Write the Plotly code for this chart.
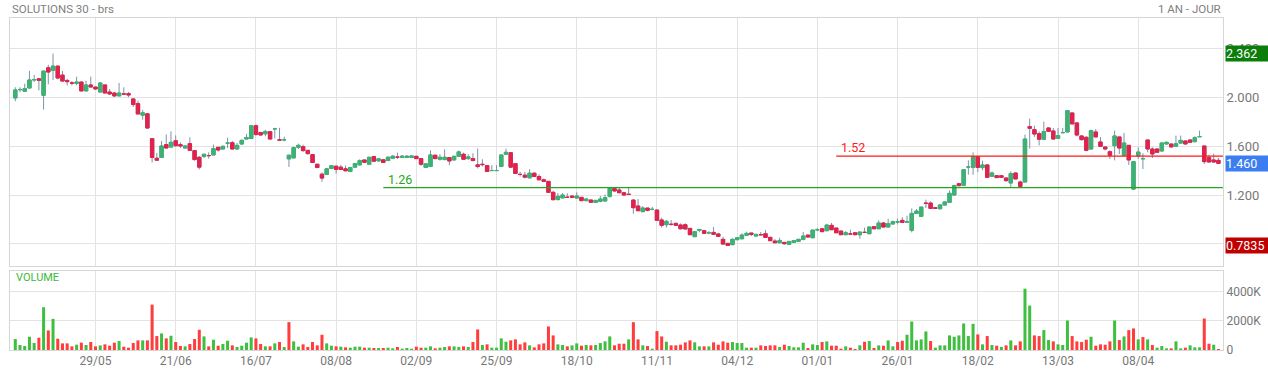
import plotly.graph_objects as go

# ---------------- data ----------------
title_left = "SOLUTIONS 30 - brs"
title_right = "1 AN - JOUR"

tick_bars = [17, 34, 51, 68, 85, 102, 119, 136, 153, 170, 187, 204, 221, 238]
tick_labels = ["29/05", "21/06", "16/07", "08/08", "02/09", "25/09", "18/10",
               "11/11", "04/12", "01/01", "26/01", "18/02", "13/03", "08/04"]

opens = [1.997, 2.065, 2.052, 2.079, 2.146, 2.155, 2.019, 2.245, 2.224, 2.259,
         2.185, 2.141, 2.120, 2.117, 2.128, 2.055, 2.104, 2.087, 2.046, 2.104,
         2.046, 2.038, 2.014, 2.030, 2.033, 1.989, 1.951, 1.856, 1.867, 1.663,
         1.502, 1.508, 1.614, 1.594, 1.646, 1.614, 1.586, 1.622, 1.565, 1.510,
         1.516, 1.524, 1.529, 1.592, 1.578, 1.627, 1.630, 1.578, 1.619, 1.660,
         1.665, 1.769, 1.714, 1.703, 1.720, 1.744, 1.653, 1.654, 1.497, 1.505,
         1.592, 1.597, 1.567, 1.532, 1.453, 1.371, 1.369, 1.418, 1.437, 1.429,
         1.415, 1.393, 1.429, 1.448, 1.488, 1.453, 1.516, 1.480, 1.489, 1.483,
         1.502, 1.511, 1.508, 1.508, 1.508, 1.518, 1.499, 1.426, 1.434, 1.527,
         1.494, 1.491, 1.508, 1.489, 1.518, 1.535, 1.499, 1.499, 1.448, 1.453,
         1.442, 1.401, 1.401, 1.434, 1.535, 1.548, 1.458, 1.369, 1.363, 1.341,
         1.379, 1.352, 1.325, 1.312, 1.222, 1.162, 1.176, 1.181, 1.192, 1.175,
         1.181, 1.154, 1.159, 1.140, 1.148, 1.151, 1.189, 1.254, 1.241, 1.219,
         1.206, 1.159, 1.110, 1.063, 1.093, 1.082, 1.077, 0.995, 0.956, 0.959,
         0.967, 0.954, 0.956, 0.926, 0.858, 0.910, 0.907, 0.890, 0.893, 0.880,
         0.836, 0.803, 0.792, 0.833, 0.841, 0.869, 0.888, 0.863, 0.874, 0.882,
         0.852, 0.822, 0.808, 0.811, 0.795, 0.811, 0.819, 0.836, 0.871, 0.849,
         0.915, 0.923, 0.907, 0.951, 0.929, 0.904, 0.874, 0.880, 0.890, 0.874,
         0.893, 0.882, 0.940, 0.923, 0.970, 0.937, 0.962, 0.978, 0.992, 0.978,
         0.910, 1.049, 1.025, 1.134, 1.134, 1.096, 1.088, 1.118, 1.140, 1.200,
         1.293, 1.280, 1.430, 1.427, 1.515, 1.425, 1.447, 1.354, 1.359, 1.359,
         1.340, 1.299, 1.381, 1.307, 1.307, 1.762, 1.737, 1.704, 1.658, 1.751,
         1.726, 1.666, 1.712, 1.718, 1.874, 1.792, 1.685, 1.674, 1.578, 1.718,
         1.636, 1.595, 1.556, 1.605, 1.677, 1.526, 1.608, 1.249, 1.523, 1.498,
         1.652, 1.578, 1.578, 1.562, 1.619, 1.619, 1.600, 1.627, 1.644, 1.652,
         1.638, 1.679, 1.603, 1.507, 1.488, 1.485]

highs = [2.085, 2.085, 2.114, 2.220, 2.188, 2.155, 2.218, 2.270, 2.362, 2.259,
         2.218, 2.155, 2.136, 2.172, 2.130, 2.139, 2.172, 2.087, 2.128, 2.104,
         2.071, 2.046, 2.120, 2.085, 2.046, 1.997, 1.975, 1.899, 1.868, 1.663,
         1.546, 1.644, 1.698, 1.722, 1.690, 1.633, 1.608, 1.674, 1.565, 1.521,
         1.535, 1.551, 1.614, 1.592, 1.605, 1.671, 1.644, 1.627, 1.657, 1.701,
         1.769, 1.780, 1.716, 1.736, 1.725, 1.752, 1.752, 1.679, 1.527, 1.597,
         1.622, 1.614, 1.567, 1.532, 1.455, 1.385, 1.423, 1.440, 1.439, 1.448,
         1.442, 1.426, 1.459, 1.494, 1.489, 1.511, 1.521, 1.497, 1.497, 1.518,
         1.529, 1.548, 1.529, 1.529, 1.529, 1.518, 1.499, 1.456, 1.567, 1.527,
         1.535, 1.575, 1.508, 1.518, 1.565, 1.548, 1.535, 1.543, 1.581, 1.494,
         1.442, 1.445, 1.445, 1.530, 1.581, 1.548, 1.459, 1.391, 1.391, 1.412,
         1.388, 1.371, 1.336, 1.312, 1.235, 1.216, 1.216, 1.214, 1.192, 1.222,
         1.181, 1.173, 1.159, 1.156, 1.192, 1.205, 1.262, 1.260, 1.263, 1.227,
         1.263, 1.160, 1.167, 1.110, 1.093, 1.104, 1.077, 1.014, 0.995, 0.995,
         0.975, 0.967, 0.967, 0.926, 0.900, 0.919, 0.912, 0.904, 0.937, 0.890,
         0.858, 0.803, 0.844, 0.849, 0.885, 0.899, 0.888, 0.877, 0.896, 0.912,
         0.858, 0.838, 0.849, 0.811, 0.820, 0.826, 0.837, 0.896, 0.871, 0.913,
         0.929, 0.924, 0.964, 0.970, 0.929, 0.905, 0.904, 0.915, 0.891, 0.897,
         0.932, 0.938, 0.941, 0.992, 0.978, 1.005, 0.990, 1.005, 1.019, 1.030,
         1.090, 1.085, 1.104, 1.162, 1.148, 1.098, 1.126, 1.148, 1.238, 1.285,
         1.299, 1.409, 1.485, 1.551, 1.516, 1.482, 1.455, 1.392, 1.362, 1.362,
         1.343, 1.395, 1.382, 1.318, 1.696, 1.827, 1.770, 1.723, 1.803, 1.756,
         1.751, 1.751, 1.751, 1.894, 1.875, 1.800, 1.693, 1.682, 1.737, 1.742,
         1.677, 1.595, 1.567, 1.729, 1.677, 1.710, 1.608, 1.475, 1.592, 1.543,
         1.652, 1.592, 1.586, 1.636, 1.638, 1.620, 1.688, 1.688, 1.645, 1.660,
         1.682, 1.729, 1.603, 1.531, 1.540, 1.504]

lows = [1.970, 2.046, 2.050, 2.075, 2.128, 2.060, 1.902, 2.109, 2.144, 2.150,
        2.136, 2.101, 2.101, 2.101, 2.054, 2.053, 2.085, 2.063, 2.046, 2.038,
        2.022, 2.005, 2.014, 2.028, 2.003, 1.924, 1.866, 1.818, 1.749, 1.467,
        1.480, 1.508, 1.586, 1.592, 1.600, 1.586, 1.586, 1.567, 1.483, 1.410,
        1.505, 1.499, 1.529, 1.556, 1.578, 1.586, 1.578, 1.578, 1.614, 1.660,
        1.660, 1.682, 1.690, 1.682, 1.660, 1.665, 1.651, 1.641, 1.431, 1.505,
        1.578, 1.554, 1.532, 1.467, 1.420, 1.309, 1.369, 1.412, 1.377, 1.410,
        1.399, 1.388, 1.428, 1.442, 1.464, 1.452, 1.472, 1.480, 1.467, 1.483,
        1.502, 1.497, 1.508, 1.508, 1.508, 1.497, 1.440, 1.426, 1.434, 1.494,
        1.483, 1.486, 1.445, 1.480, 1.513, 1.494, 1.489, 1.478, 1.418, 1.434,
        1.393, 1.400, 1.400, 1.433, 1.534, 1.423, 1.377, 1.352, 1.336, 1.341,
        1.352, 1.325, 1.309, 1.221, 1.154, 1.160, 1.175, 1.175, 1.175, 1.175,
        1.148, 1.148, 1.140, 1.139, 1.140, 1.150, 1.178, 1.232, 1.214, 1.192,
        1.200, 1.047, 1.070, 1.062, 1.066, 1.074, 0.991, 0.932, 0.932, 0.948,
        0.945, 0.918, 0.921, 0.873, 0.857, 0.894, 0.885, 0.877, 0.877, 0.855,
        0.797, 0.7835, 0.791, 0.830, 0.835, 0.863, 0.863, 0.862, 0.868, 0.851,
        0.825, 0.808, 0.803, 0.792, 0.794, 0.810, 0.819, 0.827, 0.854, 0.848,
        0.904, 0.898, 0.906, 0.914, 0.889, 0.873, 0.873, 0.873, 0.873, 0.841,
        0.888, 0.881, 0.922, 0.922, 0.936, 0.936, 0.961, 0.958, 0.975, 0.975,
        0.893, 1.044, 1.020, 1.093, 1.085, 1.088, 1.080, 1.115, 1.134, 1.195,
        1.271, 1.277, 1.367, 1.367, 1.389, 1.403, 1.345, 1.350, 1.340, 1.340,
        1.310, 1.266, 1.331, 1.266, 1.305, 1.581, 1.677, 1.608, 1.655, 1.718,
        1.660, 1.660, 1.710, 1.717, 1.783, 1.682, 1.649, 1.559, 1.573, 1.677,
        1.595, 1.567, 1.496, 1.485, 1.537, 1.526, 1.447, 1.244, 1.496, 1.414,
        1.551, 1.504, 1.550, 1.556, 1.614, 1.594, 1.595, 1.622, 1.618, 1.632,
        1.637, 1.676, 1.455, 1.471, 1.468, 1.454]

closes = [2.063, 2.067, 2.074, 2.145, 2.148, 2.142, 2.218, 2.210, 2.259, 2.161,
          2.136, 2.131, 2.119, 2.128, 2.055, 2.104, 2.087, 2.071, 2.120, 2.038,
          2.030, 2.014, 2.038, 2.030, 2.022, 1.943, 1.866, 1.875, 1.750, 1.508,
          1.486, 1.603, 1.586, 1.633, 1.605, 1.603, 1.603, 1.567, 1.491, 1.429,
          1.535, 1.524, 1.581, 1.570, 1.600, 1.627, 1.578, 1.608, 1.649, 1.673,
          1.769, 1.698, 1.693, 1.722, 1.660, 1.744, 1.651, 1.654, 1.527, 1.589,
          1.608, 1.565, 1.540, 1.467, 1.426, 1.339, 1.415, 1.440, 1.410, 1.410,
          1.399, 1.426, 1.458, 1.483, 1.469, 1.510, 1.478, 1.497, 1.467, 1.510,
          1.519, 1.511, 1.519, 1.519, 1.521, 1.499, 1.453, 1.456, 1.529, 1.499,
          1.510, 1.510, 1.480, 1.518, 1.554, 1.494, 1.513, 1.483, 1.434, 1.450,
          1.393, 1.401, 1.401, 1.529, 1.551, 1.429, 1.377, 1.369, 1.347, 1.379,
          1.352, 1.325, 1.312, 1.222, 1.162, 1.189, 1.200, 1.181, 1.181, 1.192,
          1.154, 1.167, 1.140, 1.156, 1.167, 1.178, 1.254, 1.233, 1.219, 1.200,
          1.205, 1.096, 1.071, 1.093, 1.074, 1.082, 0.992, 0.951, 0.984, 0.959,
          0.951, 0.923, 0.921, 0.874, 0.899, 0.917, 0.885, 0.890, 0.877, 0.860,
          0.797, 0.786, 0.836, 0.849, 0.871, 0.885, 0.877, 0.877, 0.874, 0.852,
          0.825, 0.808, 0.827, 0.800, 0.819, 0.825, 0.836, 0.863, 0.855, 0.912,
          0.915, 0.899, 0.953, 0.915, 0.890, 0.874, 0.890, 0.880, 0.874, 0.896,
          0.893, 0.937, 0.923, 0.970, 0.937, 0.964, 0.981, 0.980, 0.975, 0.979,
          1.049, 1.068, 1.101, 1.131, 1.090, 1.091, 1.118, 1.143, 1.214, 1.277,
          1.277, 1.408, 1.430, 1.515, 1.427, 1.447, 1.345, 1.381, 1.343, 1.345,
          1.318, 1.376, 1.332, 1.271, 1.660, 1.748, 1.701, 1.658, 1.721, 1.723,
          1.660, 1.688, 1.713, 1.893, 1.784, 1.693, 1.655, 1.567, 1.729, 1.677,
          1.600, 1.578, 1.526, 1.685, 1.586, 1.627, 1.488, 1.474, 1.553, 1.499,
          1.578, 1.537, 1.551, 1.627, 1.633, 1.595, 1.622, 1.649, 1.619, 1.633,
          1.671, 1.680, 1.474, 1.471, 1.471, 1.460]

volumes_k = [754, 343, 274, 914, 480, 846, 2949, 1349, 2149, 777,
             457, 457, 251, 366, 503, 343, 549, 251, 320, 389,
             297, 503, 617, 229, 160, 480, 663, 663, 663, 3131,
             960, 1143, 800, 983, 549, 274, 251, 411, 754, 1394,
             937, 251, 709, 297, 411, 640, 320, 206, 297, 503,
             869, 800, 411, 251, 251, 457, 549, 206, 1920, 594,
             229, 389, 206, 549, 320, 1051, 457, 297, 251, 229,
             183, 160, 229, 229, 160, 160, 137, 137, 137, 160,
             114, 206, 91, 137, 91, 229, 160, 160, 251, 114,
             160, 206, 251, 251, 206, 251, 206, 549, 1417, 343,
             389, 160, 160, 800, 571, 663, 731, 389, 526, 320,
             183, 389, 457, 1623, 1006, 389, 343, 251, 320, 457,
             297, 343, 320, 343, 480, 594, 937, 320, 434, 434,
             731, 1920, 731, 320, 274, 91, 1303, 937, 571, 320,
             320, 366, 526, 663, 526, 251, 251, 251, 526, 366,
             594, 503, 549, 480, 480, 160, 160, 160, 320, 274,
             320, 320, 206, 366, 274, 183, 183, 503, 137, 389,
             343, 549, 594, 297, 297, 91, 251, 160, 69, 320,
             571, 617, 137, 320, 297, 663, 251, 549, 640, 1051,
             1966, 663, 731, 1280, 617, 160, 320, 320, 1006, 914,
             1006, 1829, 960, 1806, 1074, 389, 960, 343, 297, 206,
             320, 663, 320, 594, 4229, 3063, 1006, 960, 1371, 686,
             594, 389, 343, 2034, 960, 594, 549, 709, 914, 297,
             389, 366, 594, 2034, 686, 937, 1371, 1486, 731, 891,
             731, 343, 160, 274, 114, 114, 594, 114, 160, 320,
             183, 183, 2171, 434, 366, 46]

levels = [1.52, 1.26]
level_start_bar = [174, 78]
level_colors = ["#ff1a1a", "#22a822"]

# ---------------- styling ----------------
GREEN_BODY = "#3cb371"
RED_BODY = "#e2224c"
WICK = "#7c93ab"
VOL_UP = "#3fbf3f"
VOL_DN = "#ff3d3d"
GRID = "#e3e3e3"
FONT = "Roboto"

n = len(closes)
x = list(range(n))
body_hi = [max(o, c) for o, c in zip(opens, closes)]
body_lo = [min(o, c) for o, c in zip(opens, closes)]
volumes = [v * 1000 for v in volumes_k]
vol_colors = []
for i in range(n):
    prev = closes[i - 1] if i > 0 else opens[0]
    vol_colors.append(VOL_UP if closes[i] >= prev else VOL_DN)

fig = go.Figure()

# wicks (full range, grey-blue)
fig.add_trace(go.Candlestick(
    x=x, open=opens, high=highs, low=lows, close=closes,
    increasing=dict(line=dict(color=WICK, width=1), fillcolor=WICK),
    decreasing=dict(line=dict(color=WICK, width=1), fillcolor=WICK),
    xaxis="x", yaxis="y", showlegend=False, hoverinfo="skip"))

# bodies (coloured)
fig.add_trace(go.Candlestick(
    x=x, open=opens, high=body_hi, low=body_lo, close=closes,
    increasing=dict(line=dict(color=GREEN_BODY, width=1), fillcolor=GREEN_BODY),
    decreasing=dict(line=dict(color=RED_BODY, width=1), fillcolor=RED_BODY),
    xaxis="x", yaxis="y", showlegend=False))

# volume
fig.add_trace(go.Bar(x=x, y=volumes, marker=dict(color=vol_colors, line=dict(width=0)),
                     xaxis="x2", yaxis="y2", showlegend=False))

# support / resistance lines
for lvl, start, col in zip(levels, level_start_bar, level_colors):
    fig.add_shape(type="line", xref="x", yref="y", x0=start, x1=n - 0.05,
                  y0=lvl, y1=lvl, line=dict(color=col, width=1.2))
    fig.add_annotation(x=start, y=lvl, xref="x", yref="y", text=f"{lvl:.2f}",
                       showarrow=False, xanchor="left", yanchor="bottom",
                       xshift=3, yshift=-1, font=dict(family=FONT, size=12.5, color=col))

def fmt(v):
    return f"{v:.4f}" if v < 1 else f"{v:.3f}"

# price boxes on the right
box_items = [(max(highs), "#0b7d0b"), (closes[-1], "#3a7ef2"), (min(lows), "#bf0000")]
for val, col in box_items:
    fig.add_annotation(x=1, xref="paper", y=val, yref="y", text=fmt(val),
                       showarrow=False, xanchor="left", yanchor="middle", xshift=2,
                       bgcolor=col, width=42, height=15, align="left",
                       borderpad=0, font=dict(family=FONT, size=12.5, color="white"))

# titles
fig.add_annotation(x=0, xref="paper", y=1.027, yref="paper", text=title_left,
                   showarrow=False, xanchor="left", yanchor="middle",
                   font=dict(family=FONT, size=11.5, color="#808080"))
fig.add_annotation(x=1, xref="paper", y=1.027, yref="paper", text=title_right,
                   showarrow=False, xanchor="right", yanchor="middle",
                   font=dict(family=FONT, size=11.5, color="#808080"))
fig.add_annotation(x=0.003, xref="paper", y=0.217, yref="paper", text="VOLUME",
                   showarrow=False, xanchor="left", yanchor="middle",
                   font=dict(family=FONT, size=11, color="#3cb93c"))

xr = [-1.12, n - 0.03]
axis_common = dict(showline=True, linecolor="#d6d6d6", linewidth=1, mirror=True,
                   gridcolor=GRID, gridwidth=1, zeroline=False, automargin=False)

fig.update_layout(
    width=1268, height=372,
    margin=dict(l=10, r=45, t=18, b=22, autoexpand=False),
    paper_bgcolor="white", plot_bgcolor="white",
    font=dict(family=FONT, size=12, color="#777777"),
    showlegend=False,
    boxmode="overlay", boxgap=0.2, boxgroupgap=0.1,
    bargap=0.36,
    xaxis=dict(domain=[0, 1], anchor="y", range=xr, tickmode="array",
               tickvals=tick_bars, ticktext=tick_labels, showticklabels=False,
               rangeslider=dict(visible=False), **axis_common),
    yaxis=dict(domain=[0.253, 1], anchor="x", side="right", range=[0.617, 2.654],
               tickmode="linear", tick0=0.8, dtick=0.4, tickformat=".3f",
               tickfont=dict(family=FONT, size=13, color="#777777"), **axis_common),
    xaxis2=dict(domain=[0, 1], anchor="y2", range=xr, matches="x", tickmode="array",
                tickvals=tick_bars, ticktext=tick_labels,
                tickfont=dict(family=FONT, size=12, color="#777777"), **axis_common),
    yaxis2=dict(domain=[0, 0.238], anchor="x2", side="right", range=[0, 5448000],
                tickmode="array", tickvals=[0, 2000000, 4000000],
                ticktext=["0", "2000K", "4000K"],
                tickfont=dict(family=FONT, size=12, color="#777777"), **axis_common),
)

fig.write_html("out.html", config={"displayModeBar": False},
               post_script="document.body.style.margin='0';document.body.style.overflow='hidden';")
